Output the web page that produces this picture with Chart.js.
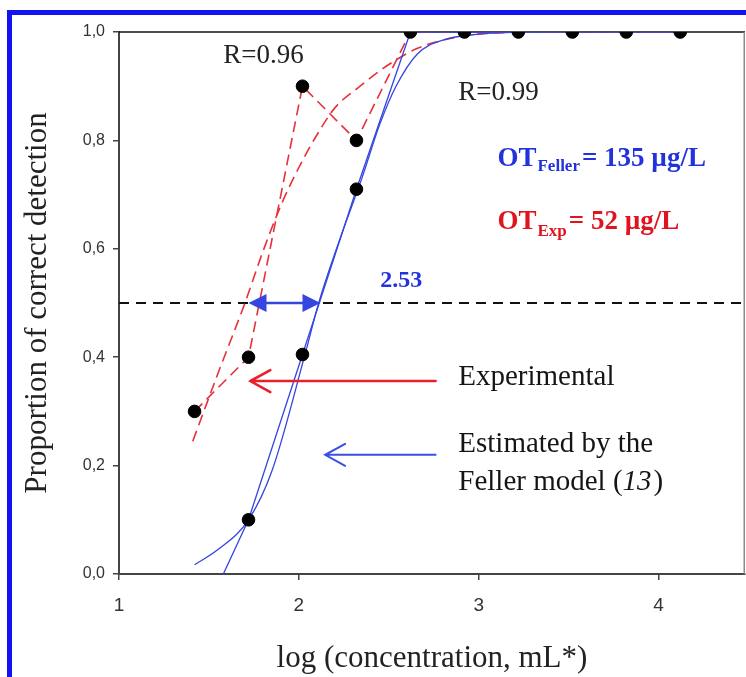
<!DOCTYPE html>
<html><head><meta charset="utf-8">
<script src="https://cdn.jsdelivr.net/npm/chart.js@4.4.0/dist/chart.umd.min.js"></script>
<style>html,body{margin:0;padding:0;background:#fff;}canvas{display:block}</style>
</head><body>
<canvas id="c" width="746" height="677"></canvas>
<script>
// ---- data (log concentration vs proportion of correct detection) ----
const logConc = [1.42, 1.72, 2.02, 2.32, 2.62, 2.92, 3.22, 3.52, 3.82, 4.12];
const experimental = [0.30, 0.40, 0.90, 0.80, 1.0, 1.0, 1.0, 1.0, 1.0, 1.0];
const fellerPointX = [1.72, 2.02, 2.32];
const fellerPointY = [0.10, 0.405, 0.71];
const fellerLineX = [1.58, 1.72, 2.02, 2.32, 2.62, 2.92, 3.22, 3.52, 3.82, 4.12];
const fellerLineY = [0.0, 0.10, 0.405, 0.71, 1.0, 1.0, 1.0, 1.0, 1.0, 1.0];
const fellerFitX = [1.42, 1.55, 1.72, 1.85, 2.03, 2.11, 2.23, 2.35, 2.45, 2.54, 2.66, 2.80, 3.00, 3.30];
const fellerFitY = [0.017, 0.045, 0.10, 0.19, 0.40, 0.50, 0.62, 0.73, 0.83, 0.90, 0.96, 0.985, 0.996, 1.0];
const expFitX = [1.41, 1.55, 1.70, 1.80, 1.90, 2.00, 2.10, 2.20, 2.34, 2.50, 2.66, 2.84, 3.00, 3.20];
const expFitY = [0.245, 0.37, 0.50, 0.595, 0.68, 0.75, 0.81, 0.86, 0.90, 0.94, 0.97, 0.988, 0.996, 1.0];
const xTicks = [1, 2, 3, 4];
const yTicks = [0.0, 0.2, 0.4, 0.6, 0.8, 1.0];
const xRange = [1, 4.48];
const thresholdLevel = 0.5;
const thresholdSpan = [1.72, 2.12];      // double arrow at 50 %
const spanLabel = '2.53';
const expArrow = {from: 2.76, to: 1.73, level: 0.356};
const fellerArrow = {from: 2.76, to: 2.146, level: 0.22};

const pts = (xs, ys) => xs.map((x, i) => ({x, y: ys[i]}));
const RED = '#e8303a', BLUE = '#3445e0', SERIF = '"Liberation Serif", "Times New Roman", serif';

function arrowOpen(ctx, x0, x1, y, color, w) {
  ctx.save(); ctx.strokeStyle = color; ctx.lineWidth = w; ctx.lineCap = 'round';
  ctx.beginPath(); ctx.moveTo(x0, y); ctx.lineTo(x1, y);
  ctx.moveTo(x1 + 20, y - 11); ctx.lineTo(x1, y); ctx.lineTo(x1 + 20, y + 11);
  ctx.stroke(); ctx.restore();
}
function tri(ctx, tip, y, dir) {
  ctx.beginPath(); ctx.moveTo(tip, y);
  ctx.lineTo(tip - dir * 18, y - 9); ctx.lineTo(tip - dir * 18, y + 9);
  ctx.closePath(); ctx.fill();
}
function segText(ctx, x, y, parts) {
  let cx = x;
  for (const p of parts) {
    ctx.font = p.f; ctx.fillText(p.t, cx, y + (p.dy || 0));
    cx += ctx.measureText(p.t).width + (p.gap || 0);
  }
}

const annot = {
  id: 'annot',
  beforeDraw(chart) {
    const ctx = chart.ctx; ctx.save(); ctx.fillStyle = '#fff';
    ctx.fillRect(0, 0, chart.width, chart.height); ctx.restore();
  },
  beforeDatasetsDraw(chart) {
    const {ctx, chartArea: a} = chart;
    ctx.save();
    ctx.strokeStyle = '#111'; ctx.lineWidth = 1.5;
    ctx.beginPath(); ctx.moveTo(a.left, a.top); ctx.lineTo(a.right, a.top); ctx.stroke();
    ctx.strokeStyle = '#8a8a8a'; ctx.lineWidth = 1.5;
    ctx.beginPath(); ctx.moveTo(a.right - 0.75, a.top); ctx.lineTo(a.right - 0.75, a.bottom); ctx.stroke();
    ctx.restore();
  },
  afterDatasetsDraw(chart) {
    const {ctx, scales: {x, y}} = chart;
    ctx.save();
    // double arrow at 50 %
    const yy = y.getPixelForValue(thresholdLevel);
    const l = x.getPixelForValue(thresholdSpan[0]), r = x.getPixelForValue(thresholdSpan[1]);
    ctx.strokeStyle = BLUE; ctx.fillStyle = BLUE; ctx.lineWidth = 2.6;
    ctx.beginPath(); ctx.moveTo(l + 10, yy); ctx.lineTo(r - 10, yy); ctx.stroke();
    tri(ctx, l, yy, -1); tri(ctx, r, yy, 1);
    // pointer arrows
    arrowOpen(ctx, x.getPixelForValue(expArrow.from), x.getPixelForValue(expArrow.to), y.getPixelForValue(expArrow.level), '#e8202a', 2.6);
    arrowOpen(ctx, x.getPixelForValue(fellerArrow.from), x.getPixelForValue(fellerArrow.to), y.getPixelForValue(fellerArrow.level), '#3a4ee6', 2.0);
    // texts
    ctx.textBaseline = 'alphabetic'; ctx.textAlign = 'left';
    const px = v => x.getPixelForValue(v), py = v => y.getPixelForValue(v);
    ctx.fillStyle = '#222'; ctx.font = '27px ' + SERIF;
    ctx.fillText('R=0.96', px(1.579), py(0.943));
    ctx.fillText('R=0.99', px(2.886), py(0.8745));
    ctx.fillStyle = '#2233dd';
    ctx.font = 'bold 24px ' + SERIF; ctx.fillText(spanLabel, px(2.452), py(0.5295));
    segText(ctx, px(3.104), py(0.753), [
      {t: 'OT', f: 'bold 27px ' + SERIF, gap: 1},
      {t: 'Feller', f: 'bold 17px ' + SERIF, dy: 5, gap: 2},
      {t: '= 135 µg/L', f: 'bold 27px ' + SERIF}]);
    ctx.fillStyle = '#e0141e';
    segText(ctx, px(3.104), py(0.6365), [
      {t: 'OT', f: 'bold 27px ' + SERIF, gap: 1},
      {t: 'Exp', f: 'bold 17px ' + SERIF, dy: 7, gap: 2},
      {t: '= 52 µg/L', f: 'bold 27px ' + SERIF}]);
    ctx.fillStyle = '#151515'; ctx.font = '29px ' + SERIF;
    ctx.fillText('Experimental', px(2.886), py(0.3487));
    ctx.fillText('Estimated by the', px(2.886), py(0.225));
    segText(ctx, px(2.886), py(0.155), [
      {t: 'Feller model (', f: '29px ' + SERIF},
      {t: '13', f: 'italic 29px ' + SERIF, gap: 2},
      {t: ')', f: '29px ' + SERIF}]);
    ctx.restore();
  },
  afterDraw(chart) {
    const ctx = chart.ctx; ctx.save(); ctx.fillStyle = '#1212f2';
    ctx.fillRect(7, 10, chart.width - 7, 5);
    ctx.fillRect(7, 10, 5, chart.height - 10);
    ctx.restore();
  }
};

const dash = [11, 6];
new Chart(document.getElementById('c'), {
  type: 'scatter',
  data: {
    datasets: [
      {label: 'Experimental points', data: pts(logConc, experimental), order: 0,
       pointRadius: 6.3, pointBackgroundColor: '#000', pointBorderColor: '#000', showLine: false},
      {label: 'Feller points', data: pts(fellerPointX, fellerPointY), order: 0,
       pointRadius: 6.3, pointBackgroundColor: '#000', pointBorderColor: '#000', showLine: false},
      {label: 'Experimental line', data: pts(logConc, experimental), order: 2, showLine: true,
       borderColor: RED, borderWidth: 1.6, borderDash: dash, pointRadius: 0},
      {label: 'Experimental fit', data: pts(expFitX, expFitY), order: 2, showLine: true,
       borderColor: RED, borderWidth: 1.6, borderDash: dash, pointRadius: 0, cubicInterpolationMode: 'monotone'},
      {label: 'Feller line', data: pts(fellerLineX, fellerLineY), order: 1, showLine: true,
       borderColor: BLUE, borderWidth: 1.3, pointRadius: 0},
      {label: 'Feller fit', data: pts(fellerFitX, fellerFitY), order: 1, showLine: true,
       borderColor: BLUE, borderWidth: 1.3, pointRadius: 0, cubicInterpolationMode: 'monotone'},
      {label: 'Threshold', data: pts(xRange, [thresholdLevel, thresholdLevel]), order: 3, showLine: true,
       borderColor: '#111', borderWidth: 2, borderDash: [10, 7], pointRadius: 0}
    ]
  },
  options: {
    responsive: false, animation: false, devicePixelRatio: 1,
    layout: {autoPadding: false, padding: {left: 0, top: 32, right: 1, bottom: 0}},
    plugins: {legend: {display: false}, tooltip: {enabled: false}},
    scales: {
      x: {
        type: 'linear', min: xRange[0], max: xRange[1],
        afterBuildTicks: s => { s.ticks = xTicks.map(v => ({value: v})); },
        afterFit: s => { s.height = 103; s.paddingLeft = 0; s.paddingRight = 0; },
        grid: {display: true, drawOnChartArea: false, drawTicks: true, tickLength: 6, color: '#444', lineWidth: 1.5},
        border: {display: true, color: '#444', width: 2},
        ticks: {color: '#333', padding: 14, font: {family: '"Liberation Sans", Arial, sans-serif', size: 19},
                callback: v => String(v)},
        title: {display: true, text: 'log (concentration, mL*)', color: '#222',
                font: {family: SERIF, size: 31}, padding: {top: 0, bottom: 0}}
      },
      y: {
        type: 'linear', min: 0, max: 1,
        afterBuildTicks: s => { s.ticks = yTicks.map(v => ({value: v})); },
        afterFit: s => { s.width = 119; s.paddingTop = 0; s.paddingBottom = 0; },
        grid: {display: true, drawOnChartArea: false, drawTicks: true, tickLength: 6, color: '#444', lineWidth: 1.5},
        border: {display: true, color: '#444', width: 2},
        ticks: {color: '#333', padding: 8, font: {family: '"Liberation Sans", Arial, sans-serif', size: 16},
                callback: v => v.toFixed(1).replace('.', ',')},
        title: {display: true, text: 'Proportion of correct detection', color: '#222',
                font: {family: SERIF, size: 31}, padding: {top: 19, bottom: 0}}
      }
    }
  },
  plugins: [annot]
});
</script>
</body></html>
